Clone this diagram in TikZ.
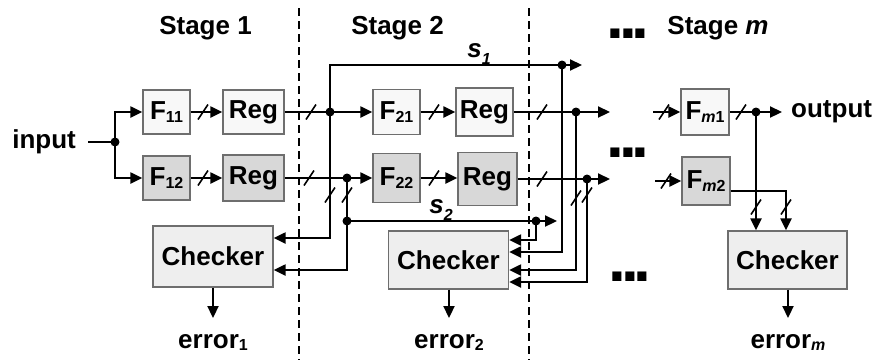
\documentclass[tikz,border=0pt]{standalone}
\usepackage{fontspec}
\setmainfont{Liberation Sans}
\usetikzlibrary{arrows.meta}
\definecolor{boxlight}{HTML}{F8F8F8}
\definecolor{boxdark}{HTML}{D8D8D8}
\definecolor{boxchk}{HTML}{EEEEEE}
\definecolor{boxline}{HTML}{6E6E6E}
\newcommand\sbs[1]{\raisebox{-0.1em}{\fontsize{16}{16}\selectfont #1}}
\newcommand\bigdots{{\fontsize{64}{64}\selectfont .\kern-5pt.\kern-5pt.}}
\begin{document}
\begin{tikzpicture}[x=1pt,y=-1pt,
  every node/.style={font=\fontsize{26}{30}\selectfont\bfseries, inner sep=0pt},
  blk/.style={draw=boxline, line width=1.3pt, rectangle},
  lt/.style={blk, fill=boxlight},
  dk/.style={blk, fill=boxdark},
  chk/.style={blk, fill=boxchk, minimum width=120pt, minimum height=59pt},
  wire/.style={line width=2.2pt},
  arr/.style={-{Triangle[length=12pt,width=11pt]}},
  jdot/.style={circle, fill=black, minimum size=9pt, inner sep=0pt},
  dotsnode/.style={anchor=base, text height=10pt, text depth=0pt},
  slashpic/.pic={\draw[line width=1.6pt] (-5,7.5) -- (5,-7.5);},
  divider/.style={line width=1.8pt, dash pattern=on 8pt off 5pt},
]
\useasboundingbox (0,0) rectangle (878,360);

% stage dividers
\draw[divider] (299,8) -- (299,360);
\draw[divider] (529,8) -- (529,360);

% stage titles
\node[anchor=base] (st1) at (205.5,34) {Stage 1};
\node[anchor=base] (st2) at (397.5,34) {Stage 2};
\node[anchor=base] (stm) at (718,34) {Stage \textit{m}};
\node[dotsnode] (dt0) at (628,38) {\bigdots};
\node[dotsnode] (dt1) at (628,157) {\bigdots};
\node[dotsnode] (dt2) at (630,281) {\bigdots};

% blocks
\node[lt, minimum width=47pt, minimum height=44pt] (F11) at (166.5,112) {F\sbs{11}};
\node[dk, minimum width=47pt, minimum height=44pt] (F12) at (166.5,178) {F\sbs{12}};
\node[lt, minimum width=61pt, minimum height=44pt] (R11) at (253.5,112) {Reg};
\node[dk, minimum width=61pt, minimum height=46pt] (R12) at (253.5,178) {Reg};
\node[lt, minimum width=47pt, minimum height=45pt] (F21) at (396.5,112) {F\sbs{21}};
\node[dk, minimum width=47pt, minimum height=49pt] (F22) at (396.5,178) {F\sbs{22}};
\node[lt, minimum width=57pt, minimum height=48pt] (R21) at (484.5,112) {Reg};
\node[dk, minimum width=59pt, minimum height=53pt] (R22) at (487.5,179) {Reg};
\node[lt, minimum width=48pt, minimum height=46pt] (Fm1) at (705,112) {F\sbs{\textit{m}1}};
\node[dk, minimum width=48pt, minimum height=48pt] (Fm2) at (706,181) {F\sbs{\textit{m}2}};
\node[chk, minimum height=61pt] (C1) at (213,256.5) {Checker};
\node[chk, minimum height=58pt] (C2) at (448.5,260) {Checker};
\node[chk, minimum width=119pt, minimum height=58pt] (Cm) at (787.5,260) {Checker};

% texts
\node[anchor=east, inner xsep=12pt] (inp) at (88,142) {input};
\node[anchor=west, inner xsep=9pt] (outp) at (782,112) {output};
\node[anchor=base] (e1) at (213,348) {error\sbs{1}};
\node[anchor=base] (e2) at (449,348) {error\sbs{2}};
\node[anchor=base] (em) at (788,348) {error\sbs{\textit{m}}};
\node[anchor=base] (s1) at (479,57) {\textit{s}\raisebox{-0.3em}{\fontsize{16}{16}\selectfont\textit{1}}};
\node[anchor=base] (s2) at (441,213) {\textit{s}\raisebox{-0.3em}{\fontsize{16}{16}\selectfont\textit{2}}};

% coordinates
\coordinate (j0) at (115,142);
\coordinate (d1) at (330,112);
\coordinate (d2) at (347,178);
\coordinate (d3) at (347,221);
\coordinate (d4) at (536,221);
\coordinate (d4e) at (557,221);
\coordinate (s1c) at (330,65);
\coordinate (s1d) at (562,65);
\coordinate (s1e) at (582,65);
\coordinate (c1a) at (330,238);
\coordinate (c1b) at (347,270);
\coordinate (c2a) at (536,240);
\coordinate (c2b) at (562,252);
\coordinate (c2c) at (576,270);
\coordinate (c2d) at (587,282);
\coordinate (d5) at (576,112);
\coordinate (d6) at (587,179);
\coordinate (o21) at (610,112);
\coordinate (o22) at (610,179);
\coordinate (mi1) at (653,112);
\coordinate (mi2) at (655,181);
\coordinate (dm) at (756,112);
\coordinate (fm2b) at (786,191);
\coordinate (ae1) at (213,318);
\coordinate (ae2) at (449,318);
\coordinate (aem) at (788,318);

% stage 1
\draw[wire] (inp.east) -- (j0);
\draw[wire,arr] (j0) |- (F11.west);
\draw[wire,arr] (j0) |- (F12.west);
\draw[wire,arr] (F11) -- (R11);
\draw[wire,arr] (F12) -- (R12);
\pic at (203,112) {slashpic};
\pic at (203,178) {slashpic};

% stage 1 -> stage 2
\draw[wire,arr] (R11.east) -- (F21.west);
\draw[wire,arr] (R12.east) -- (F22.west);
\pic at (311,112) {slashpic};
\pic at (309,178) {slashpic};
\draw[wire] (d1) -- (s1c) -- (s1d);
\draw[wire,arr] (s1d) -- (s1e);
\draw[wire,arr] (d1) -- (c1a) -- (C1.east |- c1a);
\draw[wire,arr] (d2) -- (c1b) -- (C1.east |- c1b);
\pic at (330,195) {slashpic};
\pic at (347,195) {slashpic};
\draw[wire] (d3) -- (d4);
\draw[wire,arr] (d4) -- (d4e);

% stage 2
\draw[wire,arr] (F21) -- (R21);
\draw[wire,arr] (F22.east) -- (R22.west |- F22.east);
\pic at (434,112) {slashpic};
\pic at (434,178) {slashpic};
\draw[wire,arr] (R21.east) -- (o21);
\draw[wire,arr] (R22.east) -- (o22);
\pic at (542,112) {slashpic};
\pic at (542,179) {slashpic};
\draw[wire,arr] (d4) -- (c2a) -- (C2.east |- c2a);
\draw[wire,arr] (s1d) -- (c2b) -- (C2.east |- c2b);
\draw[wire,arr] (d5) -- (c2c) -- (C2.east |- c2c);
\draw[wire,arr] (d6) -- (c2d) -- (C2.east |- c2d);
\pic at (576,198) {slashpic};
\pic at (587,195) {slashpic};

% stage m
\draw[wire,arr] (mi1) -- (Fm1.west);
\draw[wire,arr] (mi2) -- (Fm2.west);
\pic at (664,112) {slashpic};
\pic at (666,181) {slashpic};
\draw[wire,arr] (Fm1.east) -- (outp.west);
\pic at (741,112) {slashpic};
\draw[wire,arr] (dm) -- (Cm.north -| dm);
\draw[wire,arr] (Fm2.east |- fm2b) -- (fm2b) -- (Cm.north -| fm2b);
\pic at (756,207) {slashpic};
\pic at (786,207) {slashpic};

% errors
\draw[wire,arr] (C1.south) -- (ae1);
\draw[wire,arr] (C2.south -| ae2) -- (ae2);
\draw[wire,arr] (Cm.south -| aem) -- (aem);

% junction dots
\node[jdot] (nj0) at (j0) {};
\node[jdot] (nd1) at (d1) {};
\node[jdot] (nd2) at (d2) {};
\node[jdot] (nd3) at (d3) {};
\node[jdot] (nd4) at (d4) {};
\node[jdot] (ns1) at (s1d) {};
\node[jdot] (nd5) at (d5) {};
\node[jdot] (nd6) at (d6) {};
\node[jdot] (ndm) at (dm) {};
\end{tikzpicture}
\end{document}
